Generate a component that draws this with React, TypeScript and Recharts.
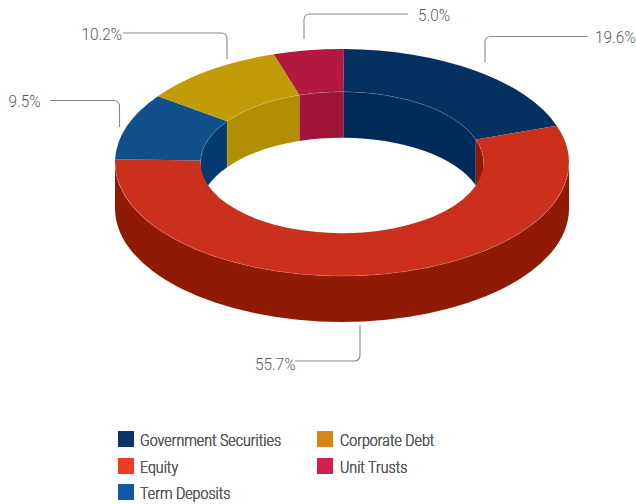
import React from "react";
import { PieChart, Pie, Cell, Legend } from "recharts";

const categories = ["Government Securities", "Equity", "Term Deposits", "Corporate Debt", "Unit Trusts"];
const shares = [19.6, 55.7, 9.5, 10.2, 5.0];
const shareLabels = ["19.6%", "55.7%", "9.5%", "10.2%", "5.0%"];
const topColors = ["#04315f", "#cb301c", "#0f508c", "#c19c07", "#b21840"];
const wallColors = ["#002a58", "#8f1a05", "#053a70", "#b28f02", "#a11338"];
const legendColors = ["#0a3568", "#f23b25", "#0f5aa3", "#d98515", "#d31f4b"];

const data = categories.map((name, i) => ({ name, value: shares[i] }));

const FONT = "Roboto, sans-serif";
const TEXT = "#58595b";
const CX = 342;
const CY = 162.5;
const SQUASH = 0.5;
const DEPTH = 46;
const OUTER = 227;
const INNER = 141.5;
const START = 89.5;

const rad = (a: number) => (a * Math.PI) / 180;
const pt = (cx: number, cy: number, r: number, a: number) => [
  cx + r * Math.cos(rad(a)),
  cy - r * SQUASH * Math.sin(rad(a)),
];
const f = (n: number) => n.toFixed(2);

const arcTo = (cx: number, cy: number, r: number, a1: number, a2: number) => {
  const [x, y] = pt(cx, cy, r, a2);
  const large = Math.abs(a1 - a2) > 180 ? 1 : 0;
  const sweep = a1 > a2 ? 1 : 0;
  return `A${f(r)} ${f(r * SQUASH)} 0 ${large} ${sweep} ${f(x)} ${f(y)}`;
};

const band = (
  cx: number,
  cy1: number,
  r1: number,
  cy2: number,
  r2: number,
  a1: number,
  a2: number
) => {
  const [sx, sy] = pt(cx, cy1, r1, a1);
  const [ex, ey] = pt(cx, cy2, r2, a2);
  return `M${f(sx)} ${f(sy)}${arcTo(cx, cy1, r1, a1, a2)}L${f(ex)} ${f(ey)}${arcTo(cx, cy2, r2, a2, a1)}Z`;
};

const clip = (a1: number, a2: number, ranges: number[][]) =>
  ranges
    .map(([hi, lo]) => [Math.min(a1, hi), Math.max(a2, lo)])
    .filter(([hi, lo]) => hi > lo);

const TopShape = (p: any) => (
  <g>
    <path
      d={band(p.cx, p.cy, p.outerRadius, p.cy, p.innerRadius, p.startAngle, p.endAngle)}
      fill={p.fill}
    />
    {clip(p.startAngle, p.endAngle, [[180, 0], [-180, -360]]).map(([hi, lo], i) => {
      const [x, y] = pt(p.cx, p.cy, p.innerRadius, hi);
      return (
        <path
          key={i}
          d={`M${f(x)} ${f(y)}${arcTo(p.cx, p.cy, p.innerRadius, hi, lo)}`}
          fill="none"
          stroke="rgba(255,255,255,0.2)"
          strokeWidth={0.6}
        />
      );
    })}
    {clip(p.startAngle, p.endAngle, [[0, -180]]).map(([hi, lo], i) => {
      const [x, y] = pt(p.cx, p.cy, p.outerRadius, hi);
      return (
        <path
          key={i}
          d={`M${f(x)} ${f(y)}${arcTo(p.cx, p.cy, p.outerRadius, hi, lo)}`}
          fill="none"
          stroke="rgba(255,255,255,0.28)"
          strokeWidth={0.7}
        />
      );
    })}
  </g>
);

const OuterWall = (p: any) => (
  <g>
    {clip(p.startAngle, p.endAngle, [[0, -180]]).map(([hi, lo], i) => (
      <path
        key={i}
        d={band(p.cx, p.cy, p.outerRadius, p.cy + DEPTH, p.outerRadius, hi, lo)}
        fill={p.fill}
      />
    ))}
  </g>
);

const InnerWall = (p: any) => (
  <g>
    {clip(p.startAngle, p.endAngle, [[180, 0], [-180, -360]]).map(([hi, lo], i) => (
      <path
        key={i}
        d={band(p.cx, p.cy, p.innerRadius, p.cy + DEPTH, p.innerRadius, hi, lo)}
        fill={p.fill}
        stroke="rgba(255,255,255,0.12)"
        strokeWidth={0.5}
      />
    ))}
  </g>
);

const leaders = [
  { path: "M485 62V42.5Q485 36.5 491 36.5H588", x: 595, y: 37.5, anchor: "start" },
  { path: "M360 325V355Q360 361 354 361H295", x: 295.5, y: 364, anchor: "end" },
  { path: "M119.5 127V106.5Q119.5 100.5 113.5 100.5H50", x: 40.5, y: 101.5, anchor: "end" },
  { path: "M227 59V39Q227 33 221 33H123", x: 122, y: 34.5, anchor: "end" },
  { path: "M304 39V20Q304 14 310 14H408", x: 418, y: 15.5, anchor: "start" },
];

const renderLabel = (p: any) => {
  const l = leaders[p.index];
  return (
    <g key={p.index}>
      <path d={l.path} fill="none" stroke="#8a8a8a" strokeWidth={1.1} />
      <text
        transform={`translate(${l.x} ${l.y}) scale(0.93 1)`}
        textAnchor={l.anchor as any}
        dominantBaseline="central"
        fontFamily={FONT}
        fontWeight={300}
        fontSize={16.5}
        fill={TEXT}
      >
        {shareLabels[p.index]}
      </text>
    </g>
  );
};

const legendSlots = [
  { left: 118, top: 431, gap: 22 },
  { left: 118, top: 458, gap: 22 },
  { left: 118, top: 484, gap: 22 },
  { left: 317, top: 431, gap: 23 },
  { left: 317, top: 458, gap: 23 },
];

const LegendContent = (props: any) => (
  <div style={{ position: "relative", width: 636, height: 504 }}>
    {(props.payload || []).map((e: any) => {
      const i = categories.indexOf(e.value);
      const s = legendSlots[i];
      return (
        <div key={e.value} style={{ position: "absolute", left: s.left, top: s.top, height: 16, whiteSpace: "nowrap" }}>
          <span
            style={{ position: "absolute", left: 0, top: 0, width: 16, height: 16, background: legendColors[i] }}
          />
          <span
            style={{
              position: "absolute",
              left: s.gap,
              top: 1,
              lineHeight: "18px",
              fontFamily: FONT,
              fontWeight: 300,
              fontSize: 16.5,
              color: TEXT,
              transform: "scaleX(0.86)",
              transformOrigin: "left center",
            }}
          >
            {e.value}
          </span>
        </div>
      );
    })}
  </div>
);

const layers = { cx: CX, cy: CY, innerRadius: INNER, outerRadius: OUTER, startAngle: START, endAngle: START - 360, dataKey: "value", nameKey: "name", stroke: "none", isAnimationActive: false };

export default function App() {
  return (
    <div style={{ position: "absolute", left: 0, top: 0, width: 636, height: 504 }}>
      <PieChart width={636} height={504} margin={{ top: 0, right: 0, bottom: 0, left: 0 }}>
        <Pie {...layers} data={data} shape={OuterWall} legendType="none" label={false}>
          {wallColors.map((c, i) => <Cell key={i} fill={c} />)}
        </Pie>
        <Pie {...layers} data={data} shape={InnerWall} legendType="none" label={false}>
          {wallColors.map((c, i) => <Cell key={i} fill={c} />)}
        </Pie>
        <Pie {...layers} data={data} shape={TopShape} label={renderLabel} labelLine={false}>
          {topColors.map((c, i) => <Cell key={i} fill={c} />)}
        </Pie>
        <Legend
          content={LegendContent}
          wrapperStyle={{ position: "absolute", left: 0, top: 0, width: 636, height: 504, pointerEvents: "none" }}
        />
      </PieChart>
    </div>
  );
}
